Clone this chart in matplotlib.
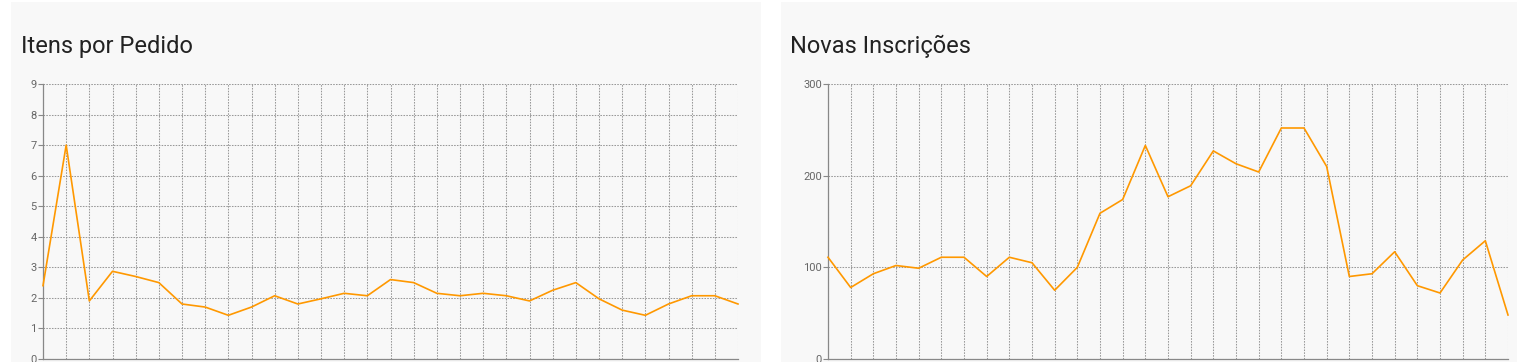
import numpy as np
import matplotlib.pyplot as plt
from matplotlib.patches import Rectangle

# data
itens_por_pedido = [2.4, 7.0, 1.9, 2.87, 2.7, 2.5, 1.8, 1.7, 1.43, 1.7,
                    2.07, 1.8, 1.97, 2.15, 2.07, 2.6, 2.5, 2.15, 2.07, 2.15,
                    2.07, 1.9, 2.25, 2.5, 1.97, 1.6, 1.43, 1.8, 2.07, 2.07, 1.8]
novas_inscricoes = [111, 78, 93, 102, 99, 111, 111, 90, 111, 105,
                    75, 100, 159, 174, 233, 177, 189, 227, 213, 204,
                    252, 252, 210, 90, 93, 117, 80, 72, 108, 129, 48]
titles = ['Itens por Pedido', 'Novas Inscrições']
y_max = [9, 300]
y_step = [1, 100]

W, H = 1517, 362
fig = plt.figure(figsize=(W / 100, H / 100), dpi=100, facecolor='white')
plt.rcParams['font.family'] = ['Roboto', 'DejaVu Sans']

# cards
for x0 in (11, 781):
    fig.add_artist(Rectangle((x0 / W, 0), 750 / W, (H - 2) / H,
                             transform=fig.transFigure, facecolor='#f8f8f8',
                             edgecolor='none', zorder=0))

# axes boxes in pixels: (left, right)
boxes = [(43, 738), (828, 1508)]
title_x = [21, 790]
top_px, bottom_px = 84, 359
line_color = '#ff9800'
grid_color = '#999999'

for i, series in enumerate([itens_por_pedido, novas_inscricoes]):
    l, r = boxes[i]
    ax = fig.add_axes([l / W, (H - bottom_px) / H, (r - l) / W,
                       (bottom_px - top_px) / H])
    ax.patch.set_alpha(0)
    x = np.arange(len(series))
    ax.plot(x, series, color=line_color, lw=1.2, zorder=3, clip_on=False)
    ax.set_xlim(0, len(series) - 1)
    ax.set_ylim(0, y_max[i])
    ax.set_xticks(x)
    ax.set_xticklabels([])
    ax.set_yticks(np.arange(0, y_max[i] + 1, y_step[i]))
    ax.tick_params(axis='x', length=0)
    ax.tick_params(axis='y', length=3.5, width=0.8, color='#888888',
                   labelsize=8, labelcolor='#666666', pad=1)
    ax.grid(True, color=grid_color, lw=0.75, linestyle=(0, (1.5, 1.2)))
    for s in ('top', 'right'):
        ax.spines[s].set_visible(False)
    for s in ('left', 'bottom'):
        ax.spines[s].set_color('#888888')
        ax.spines[s].set_linewidth(0.9)
    fig.text(title_x[i] / W, (H - 53) / H, titles[i], fontsize=17,
             color='#222222', ha='left', va='baseline')

fig.savefig('out.png', dpi=100, facecolor='white')
